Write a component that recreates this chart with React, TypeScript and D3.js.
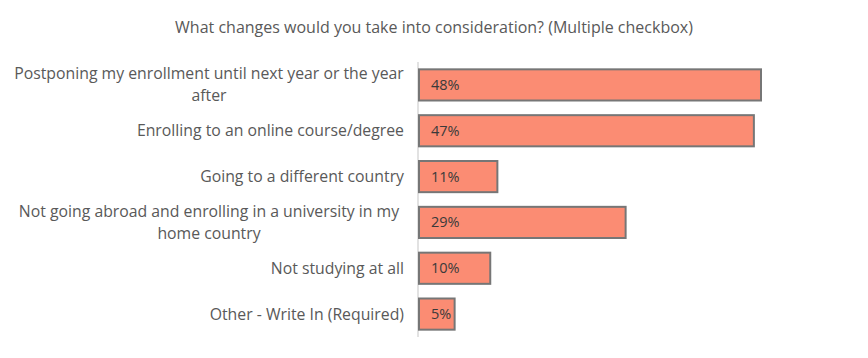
import React, { useEffect, useRef } from 'react';
import * as d3 from 'd3';

const categories = [
  'Postponing my enrollment until next year or the year after',
  'Enrolling to an online course/degree',
  'Going to a different country',
  'Not going abroad and enrolling in a university in my home country',
  'Not studying at all',
  'Other - Write In (Required)',
];
const values = [48, 47, 11, 29, 10, 5];
const title = 'What changes would you take into consideration? (Multiple checkbox)';

const FONT = '"Open Sans", "Noto Sans", sans-serif';

const App = () => {
  const ref = useRef<SVGSVGElement>(null);

  useEffect(() => {
    const width = 868;
    const height = 358;
    const svg = d3.select(ref.current);
    svg.selectAll('*').remove();

    const left = 419;
    const x = d3.scaleLinear().domain([0, 48]).range([left, 761]);
    const y = d3.scaleBand<string>()
      .domain(categories)
      .range([62, 337])
      .paddingInner(0.32)
      .paddingOuter(0.16);

    svg.append('rect').attr('width', width).attr('height', height).attr('fill', '#fff');

    svg.append('text')
      .attr('x', 434)
      .attr('y', 33)
      .attr('text-anchor', 'middle')
      .attr('font-family', FONT)
      .attr('font-size', 16)
      .attr('fill', '#595959')
      .text(title);

    // category labels with wrapping
    const labelW = 396;
    const lh = 22;
    const g = svg.append('g');
    categories.forEach((c) => {
      const t = g.append('text')
        .attr('text-anchor', 'middle')
        .attr('font-family', FONT)
        .attr('font-size', 15.8)
        .attr('fill', '#595959');
      const words = c.split(' ');
      const lines: string[] = [];
      let cur = '';
      const probe = t.append('tspan');
      words.forEach((w) => {
        const test = cur ? cur + ' ' + w : w;
        probe.text(test);
        if ((probe.node() as SVGTSpanElement).getComputedTextLength() > labelW && cur) {
          lines.push(cur);
          cur = w;
        } else cur = test;
      });
      lines.push(cur);
      probe.remove();
      const cy = (y(c) as number) + y.bandwidth() / 2;
      const y0 = cy - ((lines.length - 1) * lh) / 2 + 5.5;
      if (lines.length === 1) {
        t.attr('text-anchor', 'end');
        t.append('tspan').attr('x', 404).attr('y', y0).text(lines[0]);
      } else {
        lines.forEach((l, i) => {
          t.append('tspan').attr('x', 209).attr('y', y0 + i * lh).text(l);
        });
      }
    });

    // axis line
    svg.append('line')
      .attr('x1', 418).attr('x2', 418)
      .attr('y1', 62).attr('y2', 337)
      .attr('stroke', '#d9d9d9')
      .attr('stroke-width', 1.5);

    svg.selectAll('.bar')
      .data(values)
      .enter().append('rect')
      .attr('class', 'bar')
      .attr('x', x(0))
      .attr('y', (_d, i) => y(categories[i]) as number)
      .attr('width', (d) => x(d) - x(0))
      .attr('height', y.bandwidth())
      .attr('fill', '#FB8C73')
      .attr('stroke', '#767676')
      .attr('stroke-width', 2);

    svg.selectAll('.lbl')
      .data(values)
      .enter().append('text')
      .attr('class', 'lbl')
      .attr('x', 431)
      .attr('y', (_d, i) => (y(categories[i]) as number) + y.bandwidth() / 2 + 5)
      .attr('font-family', FONT)
      .attr('font-size', 14.5)
      .attr('fill', '#3a3a3a')
      .text((d) => d + '%');
  }, []);

  return (
    <div style={{ margin: -8 }}>
      <svg ref={ref} width={868} height={358} style={{ display: 'block' }}></svg>
    </div>
  );
};

export default App;
